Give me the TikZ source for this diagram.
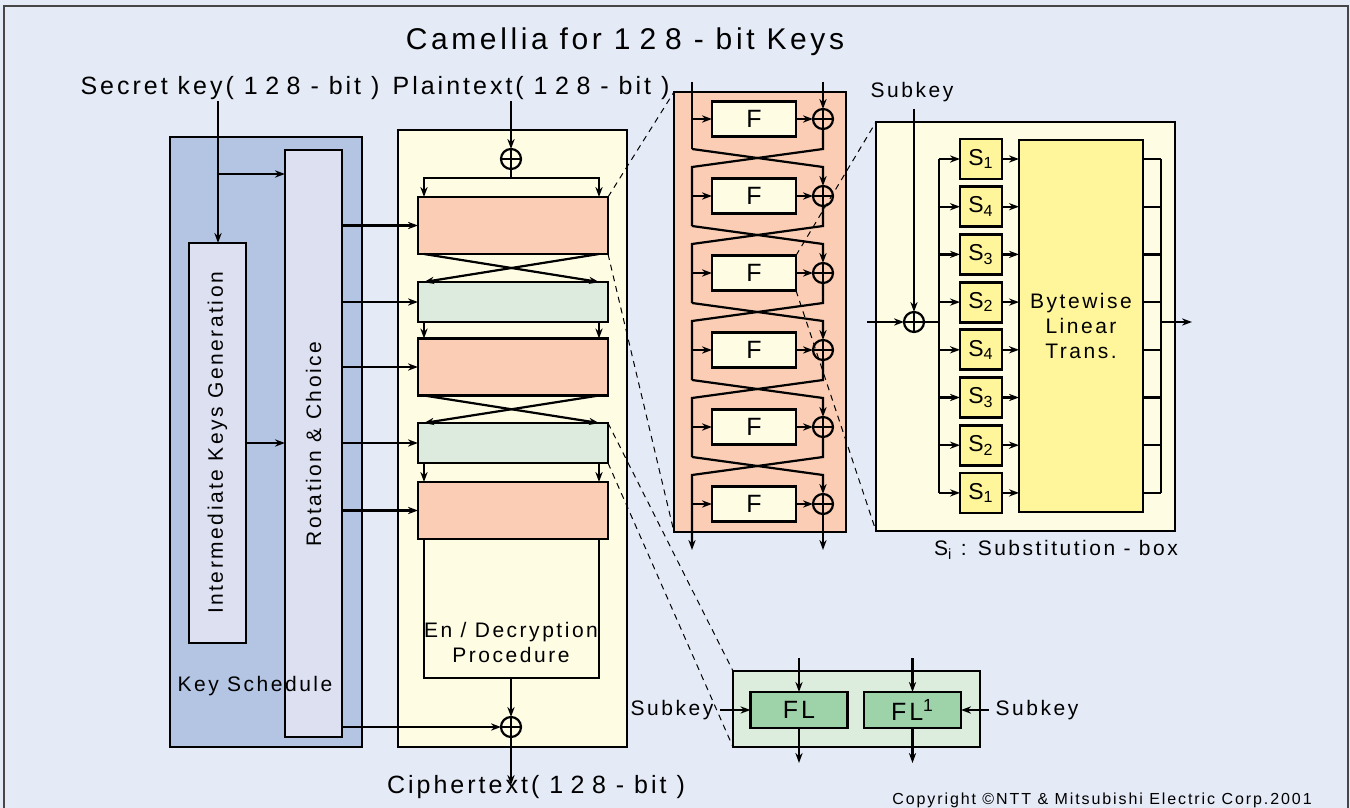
\documentclass[tikz,border=0pt]{standalone}
\usepackage{fontspec}
\setmainfont{Liberation Sans}[LetterSpace=12]
\usetikzlibrary{positioning,arrows.meta,calc}

\definecolor{bgblue}{HTML}{E4EAF6}
\definecolor{ksblue}{HTML}{B4C4E3}
\definecolor{kslight}{HTML}{DCE0F1}
\definecolor{cream}{HTML}{FEFCE3}
\definecolor{salmon}{HTML}{FACDB4}
\definecolor{mint}{HTML}{DCEBDD}
\definecolor{flpanel}{HTML}{DDEDDD}
\definecolor{flgreen}{HTML}{9ED2A9}
\definecolor{syellow}{HTML}{FFF59A}

\newcommand{\spaced}[1]{{\addfontfeature{LetterSpace=30}#1}}

\begin{document}
\begin{tikzpicture}[x=0.5pt,y=-0.5pt,
    wire/.style={line width=1.1pt},
    arr/.style={wire,-{Stealth[length=5pt,width=3.6pt]}},
    zoomline/.style={line width=0.5pt, dash pattern=on 3pt off 2.5pt},
    box/.style={rectangle, draw, line width=1.4pt, inner sep=0pt, outer sep=0pt},
    rnd/.style={box, fill=salmon, minimum width=95pt, minimum height=28.5pt},
    flk/.style={box, fill=mint, minimum width=95pt, minimum height=20pt},
    fbox/.style={box, fill=cream, minimum width=42pt, minimum height=17.5pt, font=\fontsize{12.5}{14}\selectfont},
    sbox/.style={box, fill=syellow, minimum width=21pt, minimum height=20pt, font=\fontsize{11.5}{13}\selectfont},
    flbox/.style={box, fill=flgreen, minimum width=48.5pt, minimum height=18pt, font=\fontsize{12.5}{14}\selectfont},
    xor/.style={circle, draw, line width=1.1pt, minimum size=10pt, inner sep=0pt, outer sep=0pt,
        path picture={\draw[line width=1pt] (path picture bounding box.north) -- (path picture bounding box.south)
            (path picture bounding box.west) -- (path picture bounding box.east);}},
    ttl/.style={font=\fontsize{15}{17}\selectfont},
    io/.style={font=\fontsize{12.5}{14}\selectfont},
    txt/.style={font=\fontsize{10.5}{12.5}\selectfont},
    sml/.style={font=\fontsize{10.5}{12}\selectfont}]

\useasboundingbox (0,0) rectangle (1350,808);
\clip (0,0) rectangle (1350,808);
\fill[bgblue] (0,0) rectangle (1350,808);
\draw[line width=1pt, gray!55!black] (4,820) -- (4,6) -- (1348,6) -- (1348,820);

\node[ttl] (title) at (625,42) {Camellia for \spaced{128} - bit Keys};

% key schedule
\node[box, fill=ksblue, minimum width=96pt, minimum height=305pt] (ks) at (266,442) {};
\node[box, fill=kslight, minimum width=28.5pt, minimum height=200pt] (ikg) at (217.5,443) {};
\node[box, fill=kslight, minimum width=28.5pt, minimum height=293.5pt] (rc) at (313.5,443.5) {};
\node[txt, rotate=90] (ikgtext) at (ikg) {Intermediate Keys Generation};
\node[txt, rotate=90] (rctext) at (313.5,444) {Rotation \& Choice};
\node[txt] (kstext) at (255,686) {Key Schedule};

\node[io] (sk) at (230,88) {Secret key( \spaced{128} - bit )};
\coordinate (skin) at (218,101);
\coordinate (skbr) at (218,174);
\draw[arr] (skin) -- (skin |- ikg.north);
\draw[arr] (skbr) -- (skbr -| rc.west);
\draw[arr] (ikg.east) -- (ikg.east -| rc.west);

% en/decryption
\node[box, fill=cream, minimum width=114.5pt, minimum height=308.5pt] (enc) at (512.5,438.5) {};
\node[io] (pt) at (531,88) {Plaintext( \spaced{128} - bit )};
\node[xor] (xin) at (511,159) {};
\draw[arr] (511,101) -- (xin.north);
\node[box, fill=cream, minimum width=87.5pt, minimum height=69.5pt] (proc) at (511.5,608.5) {};
\node[txt, align=center] (proctext) at (511,642) {En / Decryption\\Procedure};
\node[rnd] (r1) at (513,225.5) {};
\node[flk] (fl1) at (513,302) {};
\node[rnd] (r2) at (513,367) {};
\node[flk] (fl2) at (513,443) {};
\node[rnd] (r3) at (513,510.5) {};

\coordinate (bar) at (511,178);
\draw[wire] (xin.south) -- (bar);
\draw[arr] (bar) -| ([xshift=3pt]r1.north west);
\draw[arr] (bar) -| ([xshift=-4.5pt]r1.north east);
\foreach \a/\b in {r1/fl1,r2/fl2}{
  \draw[arr] ([xshift=3pt]\a.south west) -- ([xshift=-4.5pt]\b.north east);
  \draw[arr] ([xshift=-4.5pt]\a.south east) -- ([xshift=3pt]\b.north west);
}
\foreach \a/\b in {fl1/r2,fl2/r3}{
  \draw[arr] ([xshift=3pt]\a.south west) -- ([xshift=3pt]\b.north west);
  \draw[arr] ([xshift=-4.5pt]\a.south east) -- ([xshift=-4.5pt]\b.north east);
}
\foreach \b in {r1,fl1,r2,fl2,r3}
  \draw[arr] (rc.east |- \b.west) -- (\b.west);

\node[xor] (xout) at (511,727) {};
\draw[arr] (proc.south -| xout) -- (xout.north);
\draw[arr] (rc.east |- xout) -- (xout.west);
\draw[arr] (xout.south) -- ++(0,48);
\node[io] (ct) at (536,787) {Ciphertext( \spaced{128} - bit )};

% feistel rounds
\node[box, fill=salmon, minimum width=86pt, minimum height=220pt] (fe) at (760,312) {};
\foreach \i [evaluate=\i as \c using int(42+77*\i)] in {1,...,6}{
  \node[fbox] (f\i) at (754,\c) {F};
  \node[xor] (x\i) at (823,\c) {};
  \draw[arr] (692,\c) -- (f\i.west);
  \draw[arr] (f\i.east) -- (x\i.west);
}
\draw[arr] (823,82) -- (x1.north);
\draw[wire] (692,82) -- (692,149);
\foreach \i [evaluate=\i as \c using int(42+77*\i), evaluate=\i as \j using int(\i+1)] in {1,...,5}
  \draw[arr] (692,\c+30) -- (823,\c+48) -- (x\j.north);
\foreach \i [evaluate=\i as \c using int(42+77*\i)] in {1,...,4}
  \draw[wire] (x\i.south) -- (823,\c+30) -- (692,\c+48) -- (692,\c+107);
\draw[arr] (x5.south) -- (823,457) -- (692,475) -- (692,550);
\draw[arr] (x6.south) -- (823,550);

% s-box detail
\node[box, fill=cream, minimum width=149.5pt, minimum height=204.5pt] (sp) at (1025.5,326.5) {};
\node[sml] (subk) at (912,92) {Subkey};
\node[xor] (sx) at (914,322) {};
\draw[arr] (subk.south -| sx) -- (sx.north);
\coordinate (sin) at (867,322);
\draw[arr] (sin) -- (sx.west);
\coordinate (bus) at (939,322);
\coordinate (sout) at (1161,322);
\draw[wire] (sx.east) -- (bus);
\draw[wire] (939,159) -- (939,493);
\draw[wire] (1161,159) -- (1161,493);
\draw[arr] (sout) -- (1192,322);
\node[box, fill=syellow, minimum width=62pt, minimum height=186pt, txt, align=center] (blt) at (1081,326) {Bytewise\\Linear\\Trans.};
\foreach \s [count=\k] in {1,4,3,2,4,3,2,1}{
  \node[sbox] (s\k) at (981,111.3+47.7*\k) {S\textsubscript{\s}};
  \draw[arr] (s\k.west -| bus) -- (s\k.west);
  \draw[arr] (s\k.east) -- (s\k.east -| blt.west);
  \draw[wire] (s\k.east -| blt.east) -- (s\k.east -| sout);
}
\node[txt] (sicap) at (1056,550) {S\textsubscript{i} : Substitution - box};

% FL layer
\node[box, fill=flpanel, minimum width=123.5pt, minimum height=38pt] (flp) at (856.5,709) {};
\node[flbox] (fla) at (799,710) {FL};
\node[flbox] (flb) at (912.5,710) {FL\textsuperscript{1}};
\draw[arr] (fla.north) ++(0,-34) -- (fla.north);
\draw[arr] (fla.south) -- ++(0,35);
\draw[arr] (flb.north) ++(0,-34) -- (flb.north);
\draw[arr] (flb.south) -- ++(0,35);
\node[sml] (skl) at (672,710) {Subkey};
\node[sml] (skr) at (1037,710) {Subkey};
\draw[arr] (skl.east) -- (fla.west);
\draw[arr] (skr.west) -- (flb.east);

% zoom lines
\draw[zoomline] (r1.north east) -- (fe.north west);
\draw[zoomline] (r1.south east) -- (fe.south west);
\draw[zoomline] (fl2.north east) -- (flp.north west);
\draw[zoomline] (fl2.south east) -- (flp.south west);
\draw[zoomline] (f3.north east) -- (sp.north west);
\draw[zoomline] (f3.south east) -- (sp.south west);

\node[font=\fontsize{8}{9.5}\selectfont] (copy) at (1102,800) {Copyright ©NTT \& Mitsubishi Electric Corp.2001};
\end{tikzpicture}
\end{document}
